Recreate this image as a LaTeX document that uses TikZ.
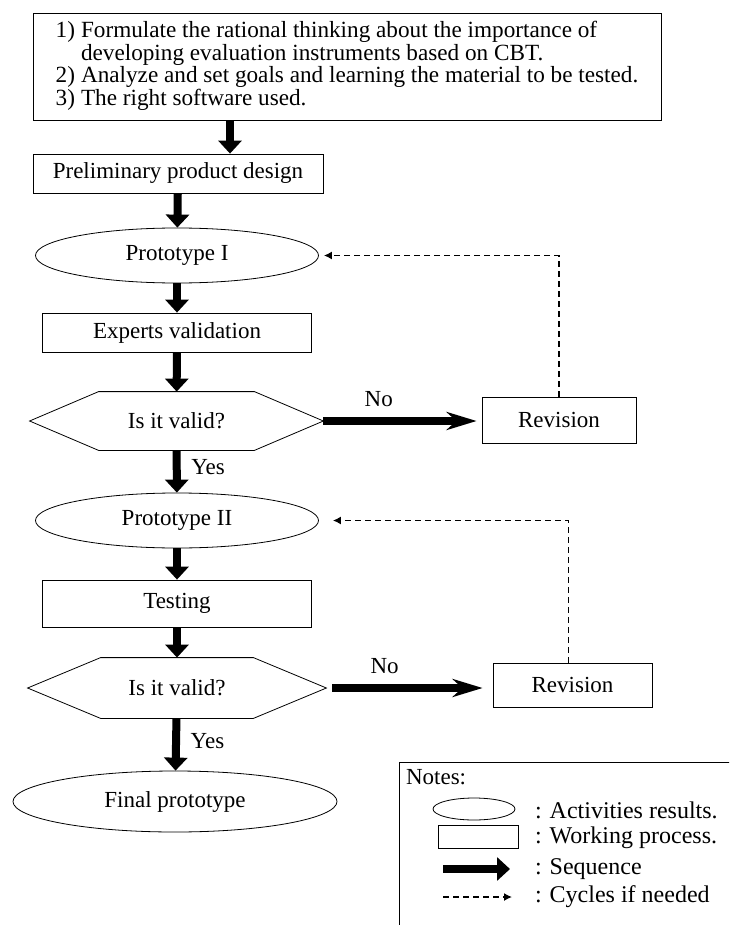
\documentclass[tikz,border=0pt]{standalone}
\usepackage{fontspec}
\setmainfont{Liberation Serif}
\usetikzlibrary{shapes.geometric,arrows.meta}

\begin{document}
\begin{tikzpicture}[x=0.5pt,y=-0.5pt,
        every node/.style={font=\fontsize{11.5}{13}\selectfont},
        procbox/.style={draw, rectangle, inner sep=2pt},
        resultoval/.style={draw, ellipse, inner sep=0pt},
        seqarrow/.style={line width=4pt, -{Triangle[width=11.5pt,length=6.5pt]}},
        noarrow/.style={line width=4pt, -{Stealth[width=9pt,length=15pt,fill=gray!70!black]}},
        cyclearrow/.style={line width=0.7pt, dash pattern=on 3pt off 2pt, -{Latex[length=4pt,width=4pt]}},
        legendtext/.style={anchor=west, font=\fontsize{12}{14}\selectfont}
    ]

        \useasboundingbox (0,0) rectangle (729,925);
        \clip (0,0) rectangle (729,925);

        %goals box
        \node[procbox, minimum width=314pt, minimum height=53.5pt, font=\fontsize{11.6}{10.8}\selectfont] (goals) at (347,66.5)
            {\begin{tabular}{@{}l@{\hspace{3pt}}l@{}}
                1) & Formulate the rational thinking about the importance of\\
                   & developing evaluation instruments based on CBT.\\
                2) & Analyze and set goals and learning the material to be tested.\\
                3) & The right software used.
            \end{tabular}};

        %main flow
        \node[procbox, minimum width=145pt, minimum height=19.5pt] (prelim) at (178,173.5) {Preliminary product design};
        \node[resultoval, minimum width=141.5pt, minimum height=27.5pt] (proto1) at (177,255.5) {Prototype I};
        \node[procbox, minimum width=134.5pt, minimum height=19.5pt] (expert) at (177,332.5) {Experts validation};

        %first check
        \node[minimum width=146.5pt, minimum height=29pt, inner sep=0pt] (valid1) at (176.5,421) {Is it valid?};
        \draw (valid1.west) -- ([xshift=34.5pt]valid1.north west) -- ([xshift=-34.5pt]valid1.north east)
            -- (valid1.east) -- ([xshift=-34.5pt]valid1.south east) -- ([xshift=34.5pt]valid1.south west) -- cycle;
        \node[procbox, minimum width=77pt, minimum height=23pt] (revision1) at (559,420) {Revision};

        \node[resultoval, minimum width=141.5pt, minimum height=27.5pt] (proto2) at (177,520.5) {Prototype II};
        \node[procbox, minimum width=134.5pt, minimum height=23.5pt] (testing) at (177,603.5) {Testing};

        %second check
        \node[minimum width=149pt, minimum height=30pt, inner sep=0pt] (valid2) at (177,688) {Is it valid?};
        \draw (valid2.west) -- ([xshift=36.5pt]valid2.north west) -- ([xshift=-36.5pt]valid2.north east)
            -- (valid2.east) -- ([xshift=-36.5pt]valid2.south east) -- ([xshift=36.5pt]valid2.south west) -- cycle;
        \node[procbox, minimum width=79.5pt, minimum height=22pt] (revision2) at (572.5,685) {Revision};

        \node[resultoval, minimum width=162pt, minimum height=30.5pt] (final) at (175,801.5) {Final prototype};

        %sequence arrows
        \draw[seqarrow] ([xshift=26pt]prelim.north |- goals.south) -- ([xshift=26pt]prelim.north);
        \draw[seqarrow] (prelim) -- (proto1);
        \draw[seqarrow] (proto1) -- (expert);
        \draw[seqarrow] (expert) -- (valid1);
        \draw[seqarrow] (valid1) -- (proto2) node[pos=0.4, right=2pt] {Yes};
        \draw[seqarrow] (proto2) -- (testing);
        \draw[seqarrow] (testing) -- (valid2);
        \draw[seqarrow] (valid2) -- (final) node[pos=0.43, right=2pt] {Yes};

        %no branches
        \draw[noarrow, shorten >=2.5pt] (valid1.east) -- (valid1.east -| revision1.west) node[pos=0.35, above=2pt] {No};
        \draw[noarrow, shorten <=3pt, shorten >=5pt] (valid2.east) -- (valid2.east -| revision2.west) node[pos=0.35, above=2pt] {No};

        %cycles
        \draw[cyclearrow, shorten >=2.5pt] (revision1.north) |- (proto1.east);
        \draw[cyclearrow, shorten >=7pt] ([xshift=-2pt]revision2.north) |- (proto2.east);

        %notes
        \draw (399,762) rectangle (740,940);
        \node[anchor=west] (notes) at (399,777) {Notes:};
        \node[resultoval, minimum width=41pt, minimum height=11pt] (legoval) at (474,809) {};
        \node[legendtext] (legovaltext) at (528,810) {: Activities results.};
        \node[procbox, minimum width=40pt, minimum height=11.5pt] (legrect) at (478,836.5) {};
        \node[legendtext] (legrecttext) at (528,838) {: Working process.};
        \coordinate (legseqa) at (443,869);
        \coordinate (legseqb) at (510,869);
        \draw[seqarrow] (legseqa) -- (legseqb);
        \node[legendtext] (legseqtext) at (528,869) {: Sequence};
        \coordinate (legcyca) at (443,897);
        \coordinate (legcycb) at (512,897);
        \draw[cyclearrow] (legcyca) -- (legcycb);
        \node[legendtext] (legcyctext) at (528,897) {: Cycles if needed};

\end{tikzpicture}
\end{document}
